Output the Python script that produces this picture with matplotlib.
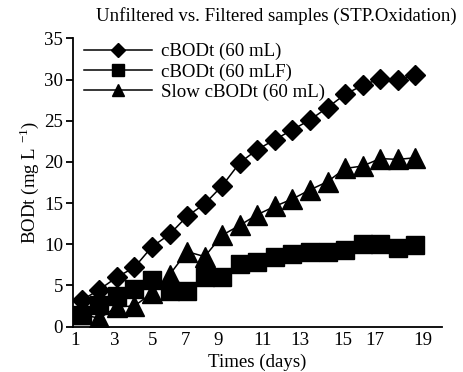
import numpy as np
import matplotlib
matplotlib.use("Agg")
import matplotlib.pyplot as plt

plt.rcParams['font.family'] = ['Liberation Serif', 'DejaVu Serif']
plt.rcParams['mathtext.fontset'] = 'custom'
plt.rcParams['mathtext.rm'] = 'Liberation Serif'

# data (20 readings, one per day slot)
days = np.arange(1, 21)
cbod = [3.2, 4.5, 6.0, 7.2, 9.7, 11.2, 13.4, 14.9, 17.1, 19.9,
        21.5, 22.7, 23.9, 25.1, 26.6, 28.2, 29.3, 30.1, 30.0, 30.5]
cbod_f = [1.4, 2.6, 3.7, 4.6, 5.6, 4.3, 4.3, 6.0, 6.0, 7.6,
          7.9, 8.4, 8.8, 9.0, 9.1, 9.3, 10.0, 10.0, 9.6, 9.9]
slow = [1.5, 1.0, 2.4, 2.5, 4.1, 6.3, 9.1, 8.5, 11.1, 12.3,
        13.6, 14.6, 15.5, 16.6, 17.6, 19.2, 19.5, 20.4, 20.3, 20.5]

labels = ['cBODt (60 mL)', 'cBODt (60 mLF)', 'Slow cBODt (60 mL)']
xtick_labels = ['1', '3', '5', '7', '9', '11', '13', '15', '17', '19']
# where the labels sit along the axis (they don't line up with the points)
xtick_pos = [0.60, 2.88, 5.05, 6.88, 8.76, 11.27, 13.44, 15.89, 17.71, 20.45]

fs = 13.6
fig = plt.figure(figsize=(4.64, 3.72), dpi=100)
ax = fig.add_axes([0.157, 0.122, 0.796, 0.775])

ax.plot(days, cbod, color='black', lw=1.1, marker='D', ms=10.5, label=labels[0])
ax.plot(days, cbod_f, color='black', lw=1.1, marker='s', ms=13, label=labels[1])
ax.plot(days, slow, color='black', lw=1.1, marker='^', ms=14, label=labels[2])

ax.set_xlim(0.49, 21.53)
ax.set_ylim(0, 35)
ax.set_yticks(range(0, 36, 5))
ax.set_xticks(xtick_pos)
ax.set_xticklabels(xtick_labels)
ax.tick_params(axis='x', length=0, pad=4, labelsize=fs)
ax.tick_params(axis='y', length=5, width=1.3, pad=2, labelsize=fs, direction='out')
for s in ['top', 'right']:
    ax.spines[s].set_visible(False)
for s in ['left', 'bottom']:
    ax.spines[s].set_linewidth(1.3)

ax.set_xlabel('Times (days)', fontsize=fs, labelpad=3)
ax.set_ylabel('BODt (mg L $^{-1}$)', fontsize=fs)
ax.yaxis.set_label_coords(-0.085, 0.50)
fig.text(0.595, 0.958, 'Unfiltered vs. Filtered samples (STP.Oxidation)',
         fontsize=fs, ha='center', va='center')

ax.legend(loc='upper left', bbox_to_anchor=(-0.005, 1.03), frameon=False,
          fontsize=fs, markerscale=0.66, handlelength=3.6, handletextpad=0.45,
          labelspacing=0.16, borderpad=0.2)

fig.savefig('out.png', dpi=100)
